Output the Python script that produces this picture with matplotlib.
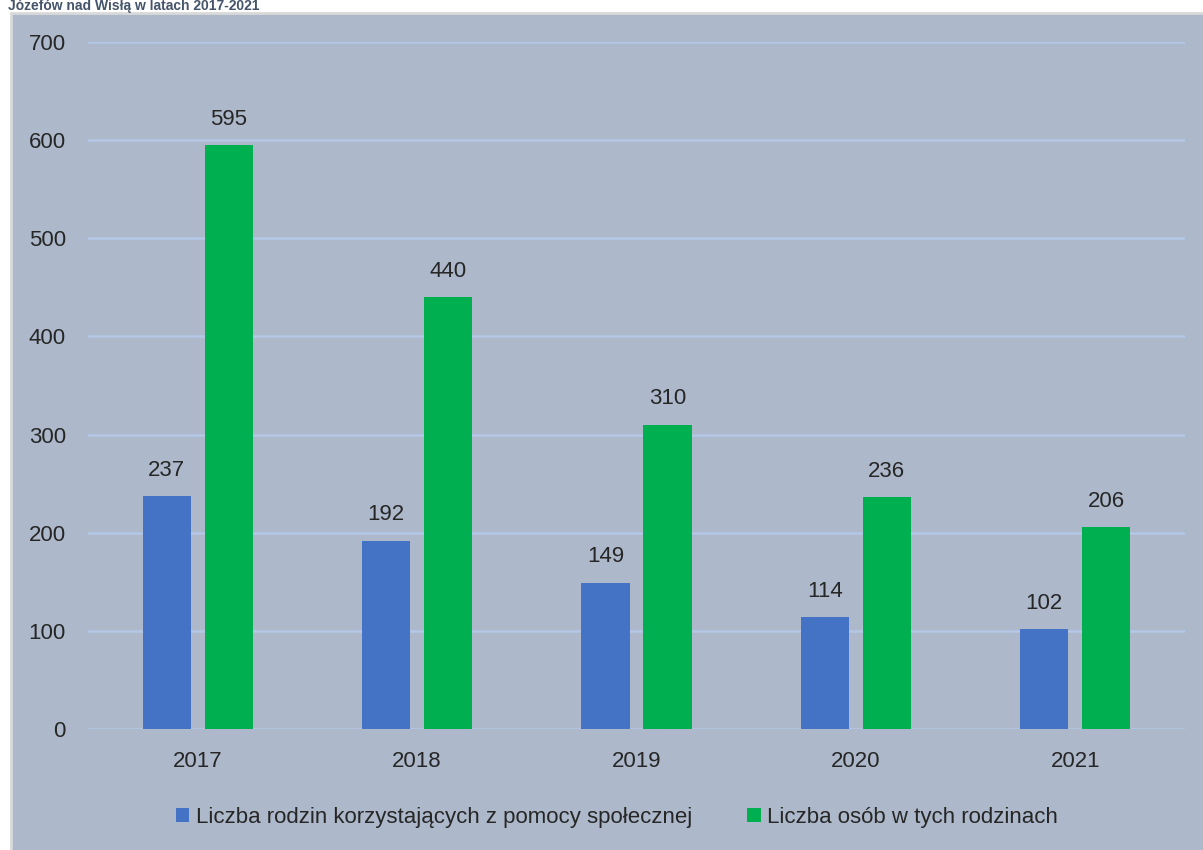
import numpy as np
import matplotlib.pyplot as plt
from matplotlib.patches import Rectangle, Patch

plt.rcParams['font.family'] = ['Liberation Sans', 'DejaVu Sans']

years = ['2017', '2018', '2019', '2020', '2021']
rodziny = [237, 192, 149, 114, 102]
osoby = [595, 440, 310, 236, 206]
series_names = ['Liczba rodzin korzystających z pomocy społecznej',
                'Liczba osób w tych rodzinach']
title = 'Józefów nad Wisłą w latach 2017-2021'

col = ['#4472C4', '#00B050']
bg = '#ADB9CA'
grid_col = '#B4C7E7'
txt = '#262626'

W, H = 1203, 850
fig = plt.figure(figsize=(W / 100, H / 100), dpi=100)

# chart frame (behind the axes)
fig.patches.append(Rectangle((11 / W, -0.01), 1.02, (H - 13) / H + 0.01,
                             transform=fig.transFigure, facecolor=bg,
                             edgecolor='#D9D9D9', linewidth=2, zorder=-5))
# title line above the frame (cut in the source, kept readable here)
fig.text(8 / W, 1 - 10 / H, title, fontsize=10, fontweight='bold',
         color='#44546A', va='baseline', ha='left')

ax = fig.add_axes([88 / W, (H - 729) / H, (1185 - 88) / W, (729 - 42) / H])
ax.set_facecolor('none')
for s in ax.spines.values():
    s.set_visible(False)

x = np.arange(len(years))
w = 0.22
off = 0.141
b1 = ax.bar(x - off, rodziny, w, color=col[0], zorder=2)
b2 = ax.bar(x + off, osoby, w, color=col[1], zorder=2)

for bars in (b1, b2):
    for r in bars:
        ax.annotate(str(int(r.get_height())),
                    (r.get_x() + r.get_width() / 2, r.get_height()),
                    xytext=(0, 11), textcoords='offset points',
                    ha='center', va='bottom', fontsize=16, color=txt)

ax.set_xlim(-0.5, len(years) - 0.5)
ax.set_ylim(0, 700)
ax.set_yticks(np.arange(0, 701, 100))
ax.set_xticks(x)
ax.set_xticklabels(years)
ax.yaxis.grid(True, color=grid_col, linewidth=1.8, zorder=1)
ax.set_axisbelow(True)
ax.tick_params(axis='y', length=0, pad=16, labelsize=16, labelcolor=txt)
ax.tick_params(axis='x', length=0, pad=16, labelsize=16, labelcolor=txt)

handles = [Patch(facecolor=col[0]), Patch(facecolor=col[1])]
fig.legend(handles, series_names, loc='center', ncol=2,
           bbox_to_anchor=(617 / W, (H - 817) / H), frameon=False,
           fontsize=16, labelcolor=txt, handlelength=0.6, handleheight=0.6,
           handletextpad=0.3, columnspacing=2.5)

fig.savefig('out.png', dpi=100)
